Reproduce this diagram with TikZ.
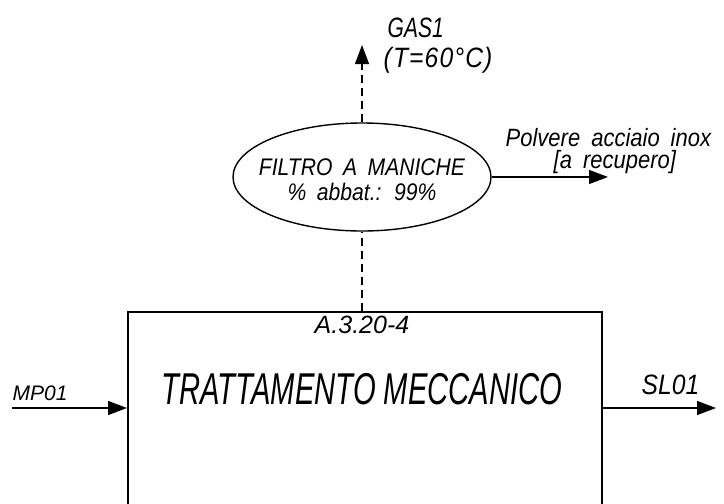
\documentclass[tikz,border=0pt]{standalone}
\usepackage{fontspec}
\usepackage{tikz}
\usetikzlibrary{arrows.meta,shapes.geometric}
\setmainfont{Liberation Sans}
\newfontfamily\narrowfont{Liberation Sans}[FakeStretch=0.655]
\newfontfamily\isofont{Liberation Sans}[FakeStretch=0.88,WordSpace=1.8]
\newfontfamily\isocaps{Liberation Sans}[FakeStretch=0.75]
\newfontfamily\isowide{Liberation Sans}[FakeStretch=0.88,WordSpace=1.8,LetterSpace=4]

\begin{document}
\begin{tikzpicture}[
    x=0.5pt, y=-0.5pt,
    line width=0.7pt,
    >={Triangle[length=9.5pt,width=7pt]},
    flow/.style={->},
    dashline/.style={dash pattern=on 4pt off 2.5pt},
    processbox/.style={draw, line width=1pt, rectangle, inner sep=0pt,
        minimum width=237pt, minimum height=104.5pt, anchor=north west},
    filterellipse/.style={draw, ellipse, inner sep=0pt,
        minimum width=129pt, minimum height=54pt},
    isolabel/.style={font=\isofont\itshape\fontsize{12}{12.5}\selectfont, inner sep=0pt},
    tag/.style={inner sep=0pt, anchor=base west}
]
\useasboundingbox (0,0) rectangle (724,504);
\clip (0,0) rectangle (724,504);
%====================================================
% PROCESS BOX
%====================================================
\node[processbox] (box) at (127,311) {};
\node[inner sep=0pt, anchor=base, font=\itshape\fontsize{12.5}{13}\selectfont] (boxcode) at (362,333) {A.3.20-4};
\node[inner sep=0pt, anchor=base, font=\narrowfont\itshape\fontsize{22.3}{23}\selectfont] (boxtitle) at (362,404) {TRATTAMENTO MECCANICO};

%====================================================
% FILTER
%====================================================
\node[filterellipse] (filter) at (362,177) {};
\node[isolabel, align=center] (filterlabel) at (362,180) {FILTRO A MANICHE\\\% abbat.: 99\%};

%====================================================
% STREAMS
%====================================================
\coordinate (mpin) at (12,408);
\coordinate (slout) at (716,408);
\coordinate (gastip) at (362,45);
\coordinate (dustend) at (608,177);

\draw[flow] (mpin) -- (mpin -| box.west);
\draw[flow] (slout -| box.east) -- (slout);
\draw[flow, dashline] (filter.north) -- (gastip);
\draw[dashline] (filter.south |- box.north) -- (filter.south);
\draw[flow] (filter.east) -- (dustend);

\node[tag, font=\itshape\fontsize{10.5}{11}\selectfont] (mplabel) at (12,400) {MP01};
\node[tag, font=\isofont\itshape\fontsize{14}{14.5}\selectfont] (sllabel) at (641,394) {SL01};
\node[tag, font=\isocaps\itshape\fontsize{14}{14.5}\selectfont] (gaslabel) at (387,37) {GAS1};
\node[tag, font=\isowide\itshape\fontsize{14}{14.5}\selectfont] (gastemp) at (383,67) {(T=60°C)};
\node[tag, font=\isofont\itshape\fontsize{12.5}{13}\selectfont] (dustlabel) at (505,146) {Polvere acciaio inox};
\node[tag, font=\isofont\itshape\fontsize{12.5}{13}\selectfont] (dustnote) at (553,168) {[a recupero]};
\end{tikzpicture}
\end{document}
